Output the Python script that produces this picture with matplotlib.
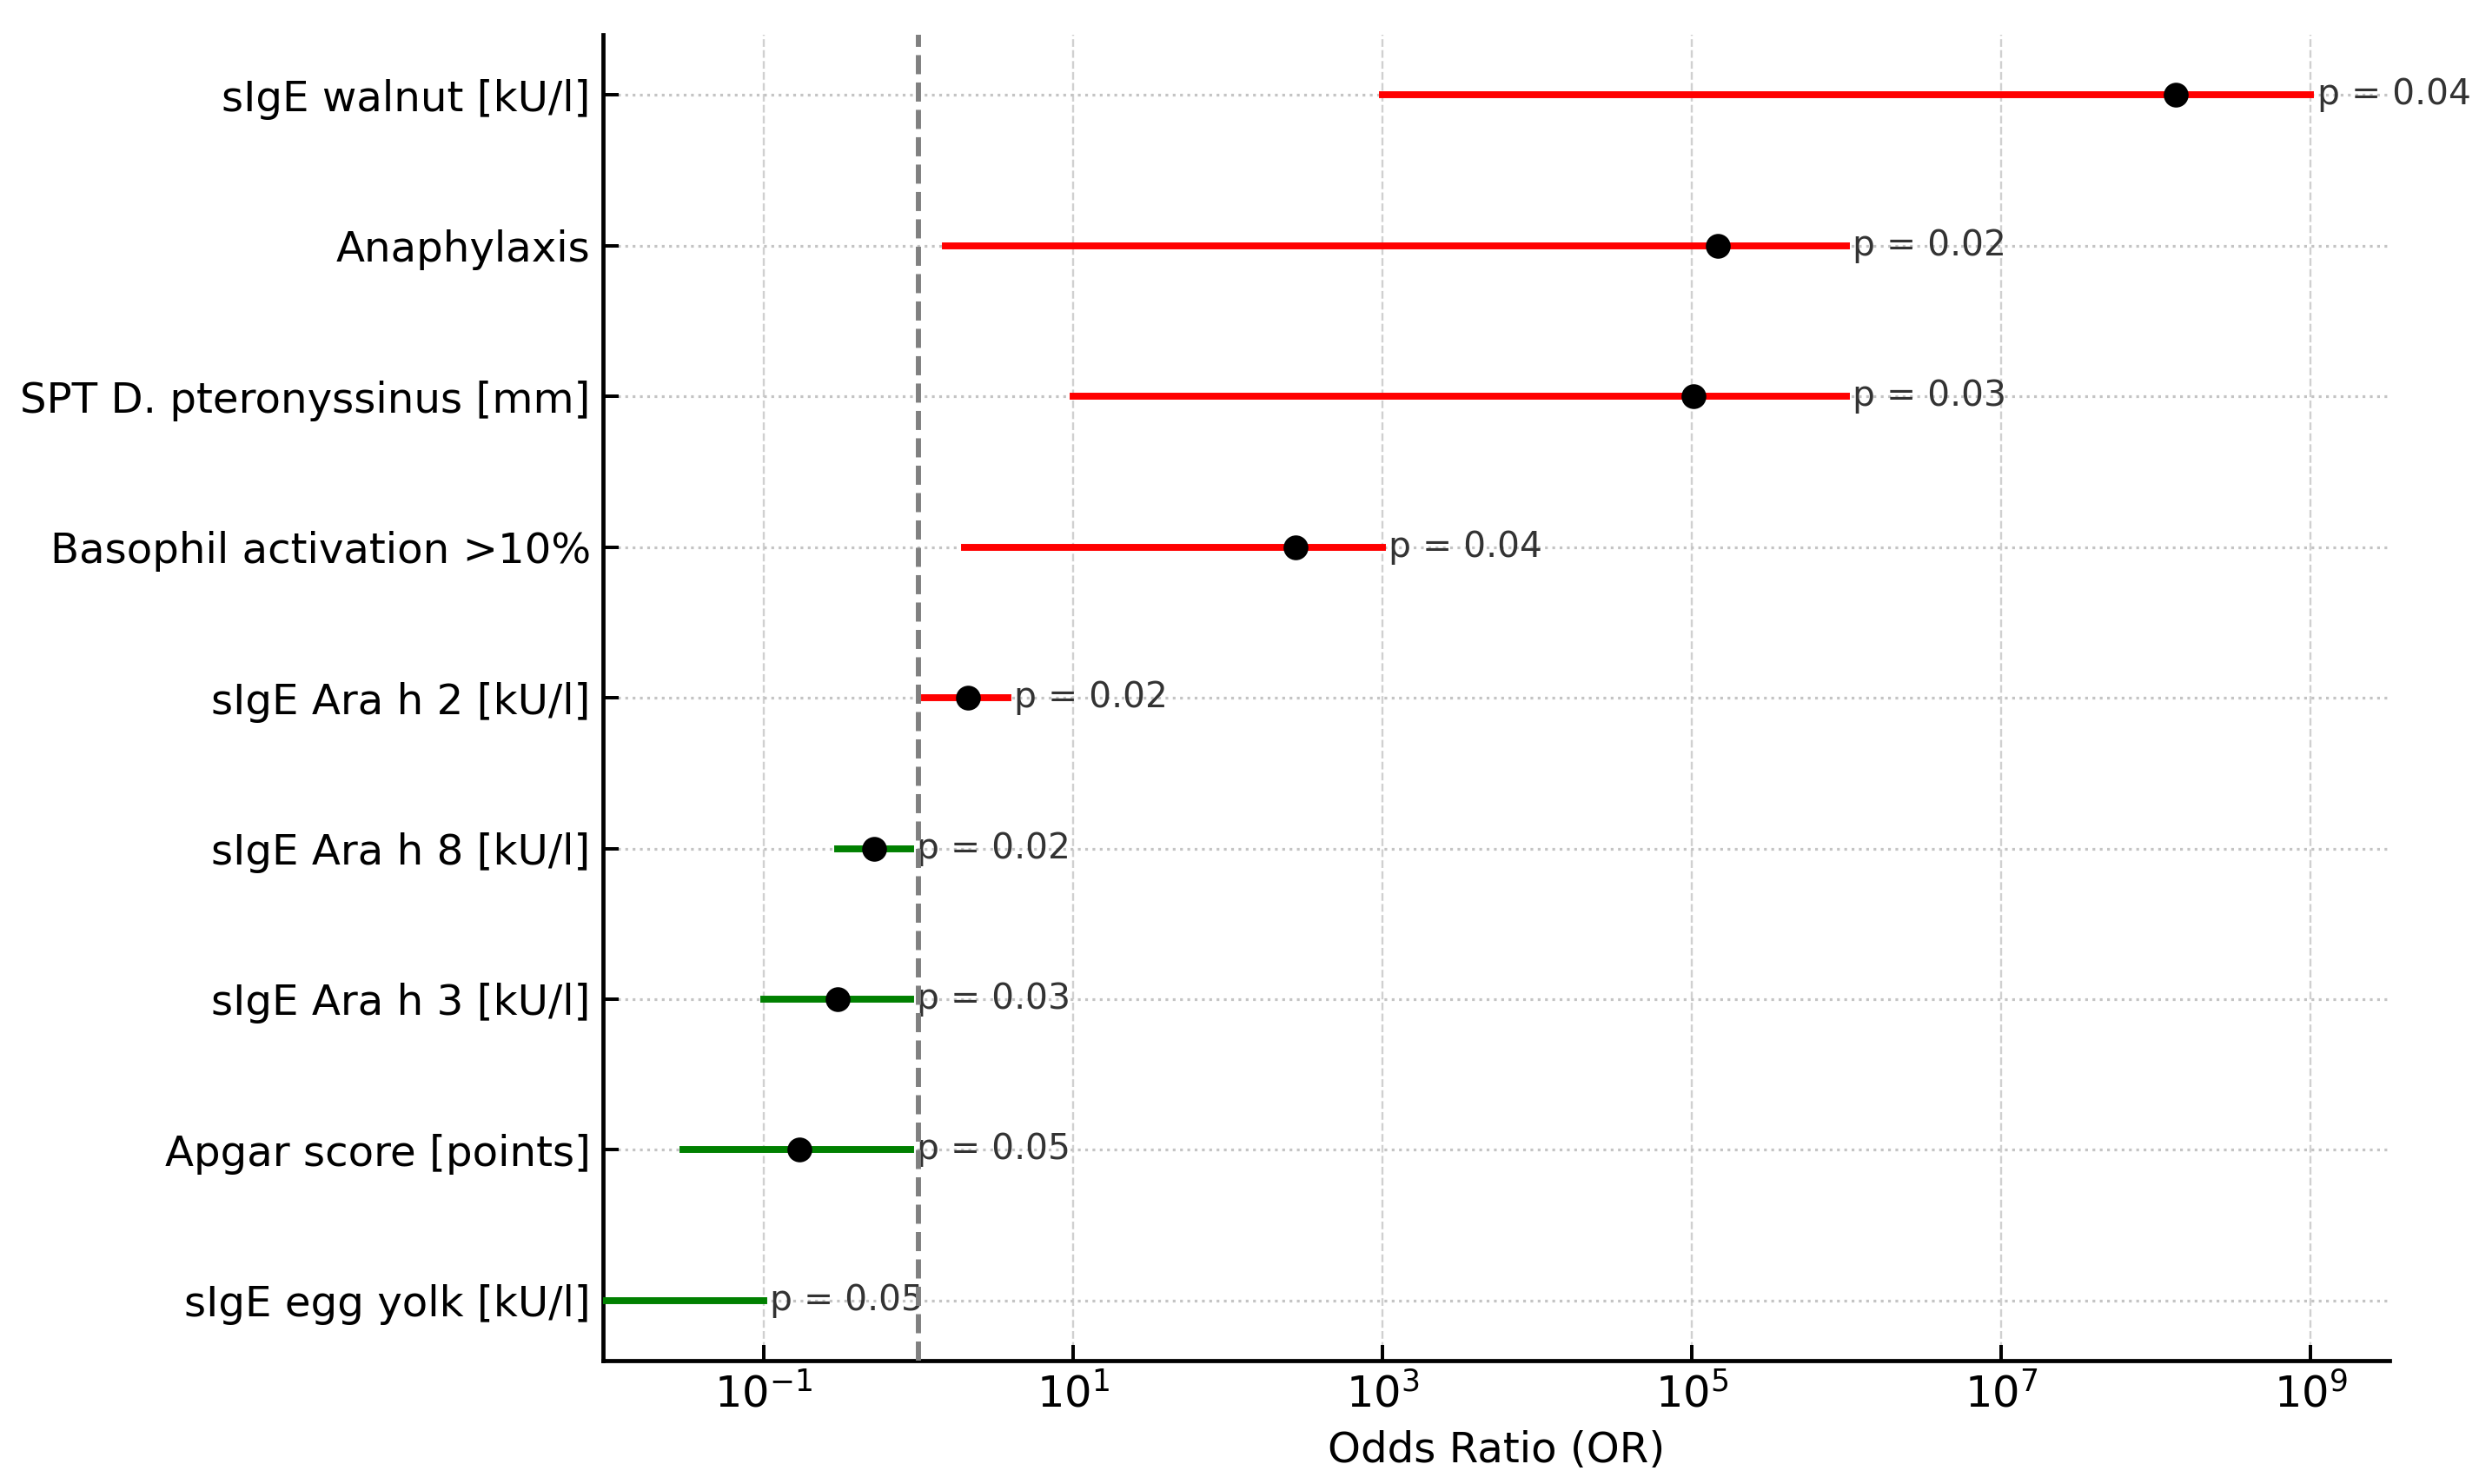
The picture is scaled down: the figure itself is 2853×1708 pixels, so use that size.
import numpy as np
import matplotlib
matplotlib.use("Agg")
import matplotlib.pyplot as plt
from matplotlib.ticker import FixedLocator, NullLocator, LogFormatterMathtext

##### DATA #####
# bottom to top
variables = ['sIgE egg yolk [kU/l]',
             'Apgar score [points]',
             'sIgE Ara h 3 [kU/l]',
             'sIgE Ara h 8 [kU/l]',
             'sIgE Ara h 2 [kU/l]',
             'Basophil activation >10%',
             'SPT D. pteronyssinus [mm]',
             'Anaphylaxis',
             'sIgE walnut [kU/l]']
odds_ratio = [0.005, 0.17, 0.30, 0.52, 2.1, 275, 1.03e5, 1.48e5, 1.35e8]
ci_lower = [0.0005, 0.03, 0.10, 0.30, 1.1, 2.0, 10, 1.5, 1e3]
ci_upper = [0.1, 0.89, 0.89, 0.89, 3.8, 1e3, 1e6, 1e6, 1e9]
p_values = [0.05, 0.05, 0.03, 0.02, 0.02, 0.04, 0.03, 0.02, 0.04]
x_ticks = [1e-1, 1e1, 1e3, 1e5, 1e7, 1e9]

##### PLOT #####
fig, ax = plt.subplots(figsize=(2853 / 285.3, 1708 / 285.3), dpi=285.3)
fig.subplots_adjust(left=0.2431, right=0.9639, bottom=0.083, top=0.9766)

y = np.arange(len(variables))
for i in range(len(variables)):
    c = 'red' if odds_ratio[i] > 1 else 'green'
    ax.plot([ci_lower[i], ci_upper[i]], [y[i], y[i]], color=c, lw=2, zorder=3)
    ax.plot(odds_ratio[i], y[i], 'o', color='black', markersize=6.2, zorder=4)
    ax.text(ci_upper[i] * 1.1, y[i], f"p = {p_values[i]:.2f}",
            va='center', ha='left', fontsize=10.3, color='#333333', zorder=3)

ax.axvline(1, color='gray', linestyle='--', lw=1.5, zorder=5)

ax.set_xscale('log')
ax.set_xlim(10 ** -2.04, 10 ** 9.51)
ax.set_ylim(-0.4, 8.4)
ax.xaxis.set_major_locator(FixedLocator(x_ticks))
ax.xaxis.set_major_formatter(LogFormatterMathtext())
ax.xaxis.set_minor_locator(NullLocator())

ax.set_yticks(y)
ax.set_yticklabels(variables, fontsize=12.2)
ax.tick_params(axis='x', labelsize=12.5)
ax.tick_params(direction='in', length=4.5, width=1, colors='black')
ax.set_xlabel('Odds Ratio (OR)', fontsize=12.2)

# grid
ax.xaxis.grid(True, linestyle='--', linewidth=0.6, color='#d0d0d0')
ax.yaxis.grid(True, linestyle=':', linewidth=0.8, color='#c4c4c4')
ax.set_axisbelow(True)

for s in ['top', 'right']:
    ax.spines[s].set_visible(False)
for s in ['left', 'bottom']:
    ax.spines[s].set_linewidth(1.2)

fig.savefig('out.png', dpi=285.3)
